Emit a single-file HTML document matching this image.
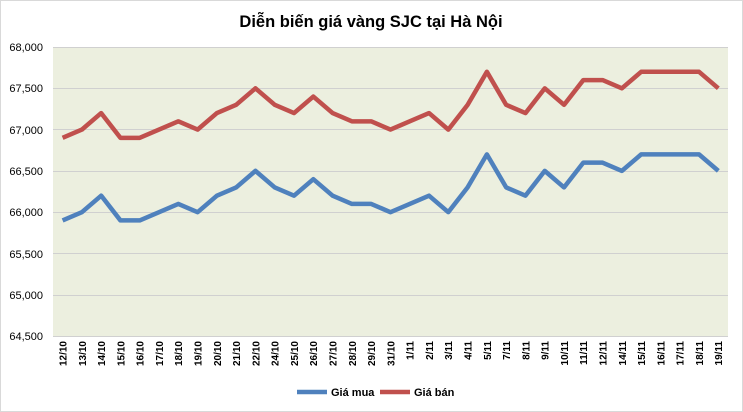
<!DOCTYPE html>
<html><head><meta charset="utf-8"><style>
html,body{margin:0;padding:0;background:#fff}
svg{display:block;font-family:"Liberation Sans",Arial,sans-serif}
</style></head><body>
<svg width="743" height="412" viewBox="0 0 743 412">
<rect x="0.5" y="0.5" width="742" height="411" fill="#fff" stroke="#d9d9d9"/>
<text x="371" y="27" text-anchor="middle" font-size="16.5" font-weight="bold" fill="#000">Diễn biến giá vàng SJC tại Hà Nội</text>
<rect x="53" y="47" width="675" height="289" fill="#ECEFDF"/>
<g stroke="#d0d0d0" stroke-width="1">
<line x1="53" y1="47.5" x2="728" y2="47.5"/><line x1="53" y1="88.5" x2="728" y2="88.5"/>
<line x1="53" y1="129.5" x2="728" y2="129.5"/><line x1="53" y1="171.5" x2="728" y2="171.5"/>
<line x1="53" y1="212.5" x2="728" y2="212.5"/><line x1="53" y1="253.5" x2="728" y2="253.5"/>
<line x1="53" y1="295.5" x2="728" y2="295.5"/><line x1="53" y1="336.5" x2="728" y2="336.5"/>
</g>
<g font-size="11" text-anchor="end" fill="#000">
<text x="43" y="51">68,000</text><text x="43" y="92">67,500</text><text x="43" y="134">67,000</text>
<text x="43" y="175">66,500</text><text x="43" y="216">66,000</text><text x="43" y="258">65,500</text>
<text x="43" y="299">65,000</text><text x="43" y="340">64,500</text>
</g>
<g transform="matrix(19.286 0 0 -0.08257 62.6 5661.8)" fill="none" stroke-linejoin="round">
<polyline vector-effect="non-scaling-stroke" stroke="#4F81BD" stroke-width="4.5" points="0,65900 1,66000 2,66200 3,65900 4,65900 5,66000 6,66100 7,66000 8,66200 9,66300 10,66500 11,66300 12,66200 13,66400 14,66200 15,66100 16,66100 17,66000 18,66100 19,66200 20,66000 21,66300 22,66700 23,66300 24,66200 25,66500 26,66300 27,66600 28,66600 29,66500 30,66700 31,66700 32,66700 33,66700 34,66500"/>
<polyline vector-effect="non-scaling-stroke" stroke="#C0504D" stroke-width="4.5" points="0,66900 1,67000 2,67200 3,66900 4,66900 5,67000 6,67100 7,67000 8,67200 9,67300 10,67500 11,67300 12,67200 13,67400 14,67200 15,67100 16,67100 17,67000 18,67100 19,67200 20,67000 21,67300 22,67700 23,67300 24,67200 25,67500 26,67300 27,67600 28,67600 29,67500 30,67700 31,67700 32,67700 33,67700 34,67500"/>
</g>
<g font-size="10" font-weight="bold" text-anchor="end" fill="#000">
<text transform="translate(66.5,341) rotate(-90)">12/10</text>
<text transform="translate(85.8,341) rotate(-90)">13/10</text>
<text transform="translate(105.1,341) rotate(-90)">14/10</text>
<text transform="translate(124.4,341) rotate(-90)">15/10</text>
<text transform="translate(143.6,341) rotate(-90)">16/10</text>
<text transform="translate(162.9,341) rotate(-90)">17/10</text>
<text transform="translate(182.2,341) rotate(-90)">18/10</text>
<text transform="translate(201.5,341) rotate(-90)">19/10</text>
<text transform="translate(220.8,341) rotate(-90)">20/10</text>
<text transform="translate(240.1,341) rotate(-90)">21/10</text>
<text transform="translate(259.4,341) rotate(-90)">22/10</text>
<text transform="translate(278.6,341) rotate(-90)">24/10</text>
<text transform="translate(297.9,341) rotate(-90)">25/10</text>
<text transform="translate(317.2,341) rotate(-90)">26/10</text>
<text transform="translate(336.5,341) rotate(-90)">27/10</text>
<text transform="translate(355.8,341) rotate(-90)">28/10</text>
<text transform="translate(375.1,341) rotate(-90)">29/10</text>
<text transform="translate(394.4,341) rotate(-90)">31/10</text>
<text transform="translate(413.6,341) rotate(-90)">1/11</text>
<text transform="translate(432.9,341) rotate(-90)">2/11</text>
<text transform="translate(452.2,341) rotate(-90)">3/11</text>
<text transform="translate(471.5,341) rotate(-90)">4/11</text>
<text transform="translate(490.8,341) rotate(-90)">5/11</text>
<text transform="translate(510.1,341) rotate(-90)">7/11</text>
<text transform="translate(529.4,341) rotate(-90)">8/11</text>
<text transform="translate(548.6,341) rotate(-90)">9/11</text>
<text transform="translate(567.9,341) rotate(-90)">10/11</text>
<text transform="translate(587.2,341) rotate(-90)">11/11</text>
<text transform="translate(606.5,341) rotate(-90)">12/11</text>
<text transform="translate(625.8,341) rotate(-90)">14/11</text>
<text transform="translate(645.1,341) rotate(-90)">15/11</text>
<text transform="translate(664.4,341) rotate(-90)">16/11</text>
<text transform="translate(683.6,341) rotate(-90)">17/11</text>
<text transform="translate(702.9,341) rotate(-90)">18/11</text>
<text transform="translate(722.2,341) rotate(-90)">19/11</text>
</g>
<line x1="297" y1="392" x2="327" y2="392" stroke="#4F81BD" stroke-width="4.5"/>
<text x="331" y="396" font-size="11" font-weight="bold">Giá mua</text>
<line x1="380" y1="392" x2="410" y2="392" stroke="#C0504D" stroke-width="4.5"/>
<text x="414" y="396" font-size="11" font-weight="bold">Giá bán</text>
</svg>
</body></html>
